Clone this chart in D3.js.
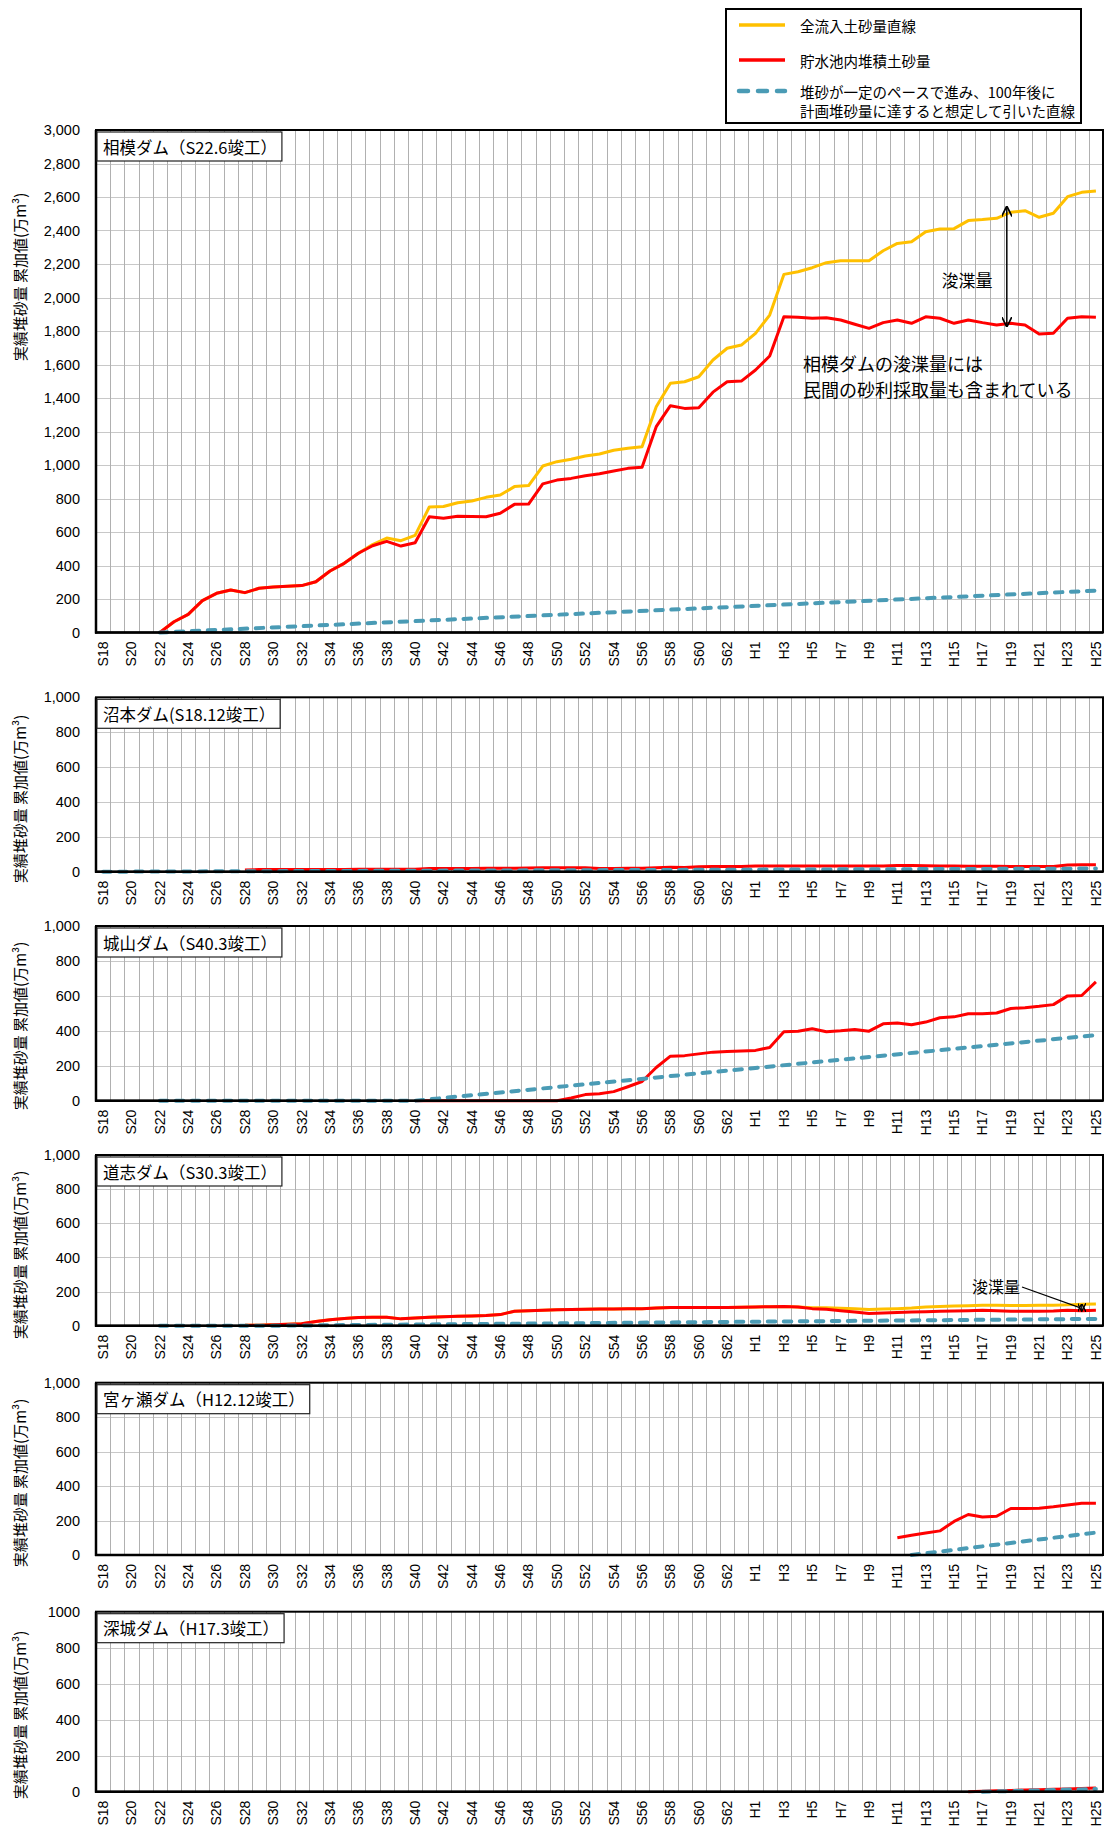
<!DOCTYPE html>
<html><head><meta charset="utf-8">
<script src="https://cdn.jsdelivr.net/npm/d3@7"></script>
<style>
body{margin:0;background:#fff;}
svg{display:block;}
</style></head><body>
<svg id="c" width="1113" height="1828"></svg>
<script>
// ---------- categories & ticks ----------
const categories = ["S18","S19","S20","S21","S22","S23","S24","S25","S26","S27","S28","S29","S30","S31","S32","S33","S34","S35","S36","S37","S38","S39","S40","S41","S42","S43","S44","S45","S46","S47","S48","S49","S50","S51","S52","S53","S54","S55","S56","S57","S58","S59","S60","S61","S62","S63","H1","H2","H3","H4","H5","H6","H7","H8","H9","H10","H11","H12","H13","H14","H15","H16","H17","H18","H19","H20","H21","H22","H23","H24","H25"];
const tickLabels = ["S18","S20","S22","S24","S26","S28","S30","S32","S34","S36","S38","S40","S42","S44","S46","S48","S50","S52","S54","S56","S58","S60","S62","H1","H3","H5","H7","H9","H11","H13","H15","H17","H19","H21","H23","H25"];

// ---------- series (start category + values) ----------
// 相模ダム
const sagamiRedStart = "S22";
const sagamiRed = [0,64,108,190,234,254,238,264,272,276,280,303,367,413,473,518,544,516,536,691,682,694,692,691,712,765,767,887,910,920,936,948,964,980,986,1229,1354,1338,1342,1435,1497,1501,1567,1651,1885,1882,1876,1879,1866,1840,1816,1850,1866,1846,1885,1876,1846,1866,1850,1836,1846,1836,1782,1786,1876,1885,1882];
const sagamiInflowStart = "S22";
const sagamiInflow = [0,64,108,190,234,254,238,264,272,276,280,303,367,413,473,525,564,548,580,749,752,775,785,807,821,871,877,994,1020,1034,1054,1066,1088,1100,1109,1348,1488,1497,1527,1627,1697,1716,1786,1895,2138,2154,2178,2208,2220,2220,2220,2279,2323,2333,2393,2409,2411,2459,2465,2473,2509,2518,2479,2503,2602,2628,2636];
const sagamiPlan = [["S22",0],["H25",250]];

// 沼本ダム
const numotoRedStart = "S28";
const numotoRed = [10,12,12,12,12,13,13,13,14,14,14,14,14,18,19,19,18,20,20,20,21,22,22,22,22,18,18,20,20,22,25,24,28,30,30,30,32,32,32,32,32,32,32,32,32,33,35,35,34,33,32,31,31,31,30,30,30,30,38,40,40];
const numotoPlan = [["S18",0],["H25",18]];

// 城山ダム
const shiroyamaRedStart = "S40";
const shiroyamaRed = [0,0,0,0,0,0,0,0,0,0,0,15,35,40,52,80,110,190,255,258,268,278,282,285,288,305,395,398,412,395,400,408,398,440,445,435,450,475,480,498,498,502,528,532,540,550,600,602,680];
const shiroyamaPlan = [["S22",0],["S40",0],["H25",375]];

// 道志ダム
const doshiRedStart = "S28";
const doshiRed = [2,3,5,8,12,25,35,42,48,50,50,40,45,50,53,55,57,60,65,85,87,90,93,95,97,98,98,100,100,104,106,106,106,106,107,108,110,111,112,110,100,96,88,80,72,75,78,80,82,84,86,88,90,88,85,85,84,86,90,88,90];
const doshiInflowStart = "S28";
const doshiInflow = [2,3,5,8,12,25,35,42,48,50,50,40,45,50,53,55,57,60,65,85,87,90,93,95,97,98,98,100,100,104,106,106,106,106,107,108,110,111,112,110,105,105,102,100,95,98,100,103,110,113,115,117,120,120,118,118,120,120,122,125,127];
const doshiPlan = [["S22",0],["S30",0],["H25",40]];

// 宮ヶ瀬ダム
const miyagaseRedStart = "H11";
const miyagaseRed = [100,115,128,140,195,235,220,225,270,270,272,280,290,300,300];
const miyagasePlan = [["H12",0],["H25",130]];

// 深城ダム
const fukashiroRedStart = "H16";
const fukashiroRed = [0,3,5,7,9,11,13,15,18,20];
const fukashiroPlan = [["H17",0],["H25",15]];

// ---------- styling / layout ----------
const COL_IN = "#FFC000", COL_RED = "#FF0000", COL_PLAN = "#4A9BB5";
const LEFT = 96, RIGHT = 1103;
const JP = "'Noto Sans CJK JP','Noto Sans',sans-serif";
const LAT = "'Liberation Sans',Arial,sans-serif";

const charts = [
  {title:"相模ダム（S22.6竣工）", top:130, bottom:632.5, yMax:3000, fmt:d3.format(","), labelY:277,
   red:[sagamiRedStart,sagamiRed], inflow:[sagamiInflowStart,sagamiInflow], plan:sagamiPlan},
  {title:"沼本ダム(S18.12竣工）", top:697.3, bottom:871.7, yMax:1000, fmt:d3.format(","), labelY:799,
   red:[numotoRedStart,numotoRed], plan:numotoPlan},
  {title:"城山ダム（S40.3竣工）", top:926, bottom:1100.7, yMax:1000, fmt:d3.format(","), labelY:1026,
   red:[shiroyamaRedStart,shiroyamaRed], plan:shiroyamaPlan},
  {title:"道志ダム（S30.3竣工）", top:1155, bottom:1325.7, yMax:1000, fmt:d3.format(","), labelY:1255,
   red:[doshiRedStart,doshiRed], inflow:[doshiInflowStart,doshiInflow], plan:doshiPlan},
  {title:"宮ヶ瀬ダム（H12.12竣工）", top:1382.7, bottom:1555, yMax:1000, fmt:d3.format(","), labelY:1483,
   red:[miyagaseRedStart,miyagaseRed], plan:miyagasePlan},
  {title:"深城ダム（H17.3竣工）", top:1611.7, bottom:1791.7, yMax:1000, fmt:d3.format("d"), labelY:1715,
   red:[fukashiroRedStart,fukashiroRed], plan:fukashiroPlan}
];

const svg = d3.select("#c");
const x = d3.scaleBand().domain(categories).range([LEFT, RIGHT]).padding(0);
const bw = x.bandwidth();
const cx = c => x(c) + bw/2;

function toPoints(start, vals){
  const s = categories.indexOf(start);
  return vals.map((v,i)=>({c:categories[s+i], v}));
}

charts.forEach((ch, ci) => {
  const g = svg.append("g");
  const y = d3.scaleLinear().domain([0, ch.yMax]).range([ch.bottom, ch.top]);
  const ticks = d3.range(0, ch.yMax + 1, 200);

  g.append("rect").attr("x",LEFT).attr("y",ch.top).attr("width",RIGHT-LEFT).attr("height",ch.bottom-ch.top).attr("fill","#fff");

  g.append("g").selectAll("line").data(ticks.filter(t=>t>0 && t<ch.yMax)).join("line")
    .attr("x1",LEFT).attr("x2",RIGHT).attr("y1",d=>Math.round(y(d))+0.5).attr("y2",d=>Math.round(y(d))+0.5)
    .attr("stroke","#c8c8c8").attr("stroke-width",1);
  g.append("g").selectAll("line").data(categories.slice(1)).join("line")
    .attr("x1",d=>Math.round(x(d))+0.5).attr("x2",d=>Math.round(x(d))+0.5).attr("y1",ch.top).attr("y2",ch.bottom)
    .attr("stroke","#b0b0b0").attr("stroke-width",1);

  const line = d3.line().x(d=>cx(d.c)).y(d=>y(d.v));

  if (ch.inflow){
    g.append("path").datum(toPoints(ch.inflow[0], ch.inflow[1])).attr("d",line)
      .attr("fill","none").attr("stroke",COL_IN).attr("stroke-width",3).attr("stroke-linejoin","round");
  }
  g.append("path").datum(toPoints(ch.red[0], ch.red[1])).attr("d",line)
    .attr("fill","none").attr("stroke",COL_RED).attr("stroke-width",3).attr("stroke-linejoin","round");
  g.append("path").datum(ch.plan.map(p=>({c:p[0], v:p[1]}))).attr("d",line)
    .attr("fill","none").attr("stroke",COL_PLAN).attr("stroke-width",4).attr("stroke-linecap","round")
    .attr("stroke-dasharray","7.5 8.5");

  g.append("rect").attr("x",LEFT).attr("y",ch.top).attr("width",RIGHT-LEFT).attr("height",ch.bottom-ch.top)
    .attr("fill","none").attr("stroke","#000").attr("stroke-width",2);
  g.append("line").attr("x1",LEFT).attr("x2",LEFT).attr("y1",ch.top).attr("y2",ch.bottom+1).attr("stroke","#000").attr("stroke-width",2.5);
  g.append("line").attr("x1",LEFT-1).attr("x2",RIGHT).attr("y1",ch.bottom).attr("y2",ch.bottom).attr("stroke","#000").attr("stroke-width",2.5);

  const ya = g.append("g").attr("transform",`translate(${LEFT},0)`)
    .call(d3.axisLeft(y).tickValues(ticks).tickFormat(ch.fmt).tickSize(0).tickPadding(16));
  ya.select(".domain").remove();
  ya.selectAll("text").attr("font-family",LAT).attr("font-size",14.5).attr("fill","#000");

  const xa = g.append("g").attr("transform",`translate(0,${ch.bottom})`)
    .call(d3.axisBottom(x).tickValues(tickLabels).tickSize(0));
  xa.select(".domain").remove();
  xa.selectAll("text").attr("font-family",LAT).attr("font-size",14).attr("fill","#000")
    .attr("transform","rotate(-90)").attr("text-anchor","end").attr("x",-9).attr("y",0).attr("dy","0.35em");

  g.append("text").attr("transform",`translate(19,${ch.labelY}) rotate(-90)`)
    .attr("text-anchor","middle").attr("dominant-baseline","central")
    .attr("font-family",JP).attr("font-size",15).attr("fill","#000")
    .text("実績堆砂量 累加値(万m³)");

  const tg = g.append("g");
  const tr = tg.append("rect").attr("x",LEFT+1).attr("y",ch.top+2).attr("height",29)
    .attr("fill","#fff").attr("stroke","#222").attr("stroke-width",1.2);
  const tt = tg.append("text").attr("x",LEFT+7).attr("y",ch.top+16.5).attr("dominant-baseline","central")
    .attr("font-family",JP).attr("font-size",16.5).attr("fill","#000").text(ch.title);
  tr.attr("width", tt.node().getComputedTextLength() + 11);

  ch.y = y;
});

// ---------- annotations ----------
const defs = svg.append("defs");
defs.append("marker").attr("id","ah").attr("viewBox","0 0 10 10").attr("refX",9).attr("refY",5)
  .attr("markerWidth",7).attr("markerHeight",7).attr("orient","auto-start-reverse")
  .append("path").attr("d","M0,0 L10,5 L0,10").attr("fill","none").attr("stroke","#000").attr("stroke-width",1.6);

{
  const ch = charts[0], y = ch.y;
  const ax = cx("H19") - 4;
  svg.append("line").attr("x1",ax).attr("x2",ax).attr("y1",y(2540)).attr("y2",y(1830))
    .attr("stroke","#000").attr("stroke-width",1.5).attr("marker-start","url(#ah)").attr("marker-end","url(#ah)");
  svg.append("text").attr("x",967).attr("y",279).attr("text-anchor","middle").attr("dominant-baseline","central")
    .attr("font-family",JP).attr("font-size",17).text("浚渫量");
  svg.append("text").attr("x",803).attr("y",363).attr("dominant-baseline","central")
    .attr("font-family",JP).attr("font-size",18).text("相模ダムの浚渫量には");
  svg.append("text").attr("x",803).attr("y",389).attr("dominant-baseline","central")
    .attr("font-family",JP).attr("font-size",18).text("民間の砂利採取量も含まれている");
}
{
  const ch = charts[3], y = ch.y;
  const ax = cx("H24");
  svg.append("line").attr("x1",ax).attr("x2",ax).attr("y1",y(125)).attr("y2",y(88))
    .attr("stroke","#000").attr("stroke-width",1.2).attr("marker-start","url(#ah)").attr("marker-end","url(#ah)");
  svg.append("line").attr("x1",1022).attr("y1",1287).attr("x2",ax-2).attr("y2",y(106))
    .attr("stroke","#000").attr("stroke-width",1.2);
  svg.append("text").attr("x",996).attr("y",1286).attr("text-anchor","middle").attr("dominant-baseline","central")
    .attr("font-family",JP).attr("font-size",16).text("浚渫量");
}

{
  const lg = svg.append("g");
  lg.append("rect").attr("x",726).attr("y",9).attr("width",355).attr("height",114)
    .attr("fill","#fff").attr("stroke","#000").attr("stroke-width",2);
  const items = [
    {col:COL_IN, dash:null, y:25, lines:["全流入土砂量直線"]},
    {col:COL_RED, dash:null, y:60, lines:["貯水池内堆積土砂量"]},
    {col:COL_PLAN, dash:"9 10", y:91, lines:["堆砂が一定のペースで進み、100年後に","計画堆砂量に達すると想定して引いた直線"]}
  ];
  items.forEach(it=>{
    lg.append("line").attr("x1",739).attr("x2",785).attr("y1",it.y).attr("y2",it.y)
      .attr("stroke",it.col).attr("stroke-width",it.dash?4.5:3.5)
      .attr("stroke-linecap",it.dash?"round":"butt").attr("stroke-dasharray",it.dash);
    it.lines.forEach((t,k)=>{
      lg.append("text").attr("x",800).attr("y",it.y + k*19.5).attr("dominant-baseline","central")
        .attr("font-family",JP).attr("font-size",14.5).attr("fill","#000").text(t);
    });
  });
}
</script>
</body></html>
